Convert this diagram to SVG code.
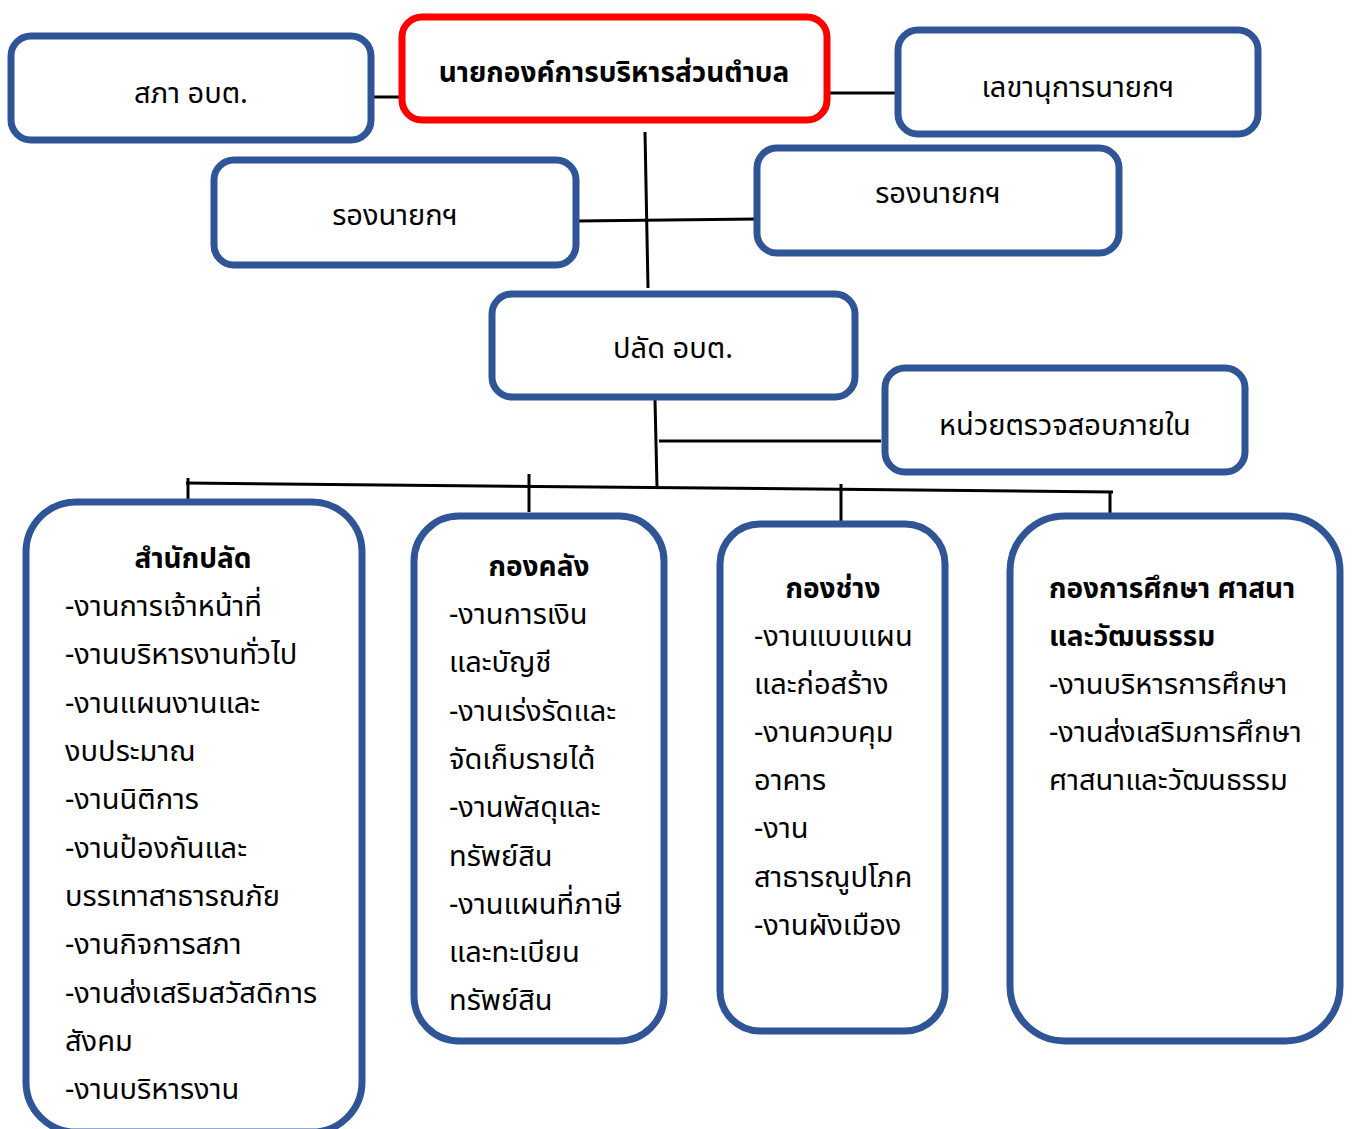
<svg xmlns="http://www.w3.org/2000/svg" width="1354" height="1129" viewBox="0 0 1354 1129">
<style>
.box{fill:#fff;stroke:#2F5597;stroke-width:7}
.red{fill:#fff;stroke:#FF0000;stroke-width:7}
.ln{stroke:#000;stroke-width:3;fill:none}
text{font-family:"Noto Sans Thai","Noto Sans","DejaVu Sans",sans-serif;font-size:29px;fill:#000}
.c{text-anchor:middle}
.b{font-weight:bold;font-size:28px}
</style>
<rect width="1354" height="1129" fill="#fff"/>
<g id="connectors">
<line class="ln" x1="372" y1="97" x2="402" y2="97"/>
<line class="ln" x1="829" y1="93" x2="898" y2="93"/>
<line class="ln" x1="645" y1="132" x2="648" y2="288"/>
<line class="ln" x1="577" y1="221" x2="757" y2="219"/>
<line class="ln" x1="655" y1="400" x2="657" y2="487"/>
<line class="ln" x1="659" y1="441" x2="881" y2="441"/>
<line class="ln" x1="186" y1="483" x2="1113" y2="492"/>
<line class="ln" x1="188" y1="478" x2="188" y2="528"/>
<line class="ln" x1="529" y1="474" x2="529" y2="512"/>
<line class="ln" x1="841" y1="484" x2="841" y2="527"/>
<line class="ln" x1="1110" y1="491" x2="1110" y2="513"/>
</g>
<g id="n-sapha"><rect class="box" x="11" y="36" width="360" height="104" rx="20"/><text class="c" x="191" y="103">สภา อบต.</text></g>
<g id="n-nayok"><rect class="red" x="402" y="17" width="425" height="103" rx="20"/><text class="c b" x="614" y="82">นายกองค์การบริหารส่วนตำบล</text></g>
<g id="n-lekha"><rect class="box" x="898" y="30" width="360" height="104" rx="20"/><text class="c" x="1078" y="97">เลขานุการนายกฯ</text></g>
<g id="n-rong1"><rect class="box" x="214" y="160" width="362" height="105" rx="20"/><text class="c" x="395" y="225">รองนายกฯ</text></g>
<g id="n-rong2"><rect class="box" x="757" y="148" width="362" height="105" rx="20"/><text class="c" x="938" y="203">รองนายกฯ</text></g>
<g id="n-palad"><rect class="box" x="492" y="294" width="363" height="103" rx="20"/><text class="c" x="673" y="358">ปลัด อบต.</text></g>
<g id="n-audit"><rect class="box" x="885" y="368" width="360" height="104" rx="20"/><text class="c" x="1065" y="435">หน่วยตรวจสอบภายใน</text></g>
<g id="n-samnak"><rect class="box" x="26" y="502" width="336" height="630" rx="50"/>
<text class="c b" x="193" y="568">สำนักปลัด</text>
<text x="65" y="616">-งานการเจ้าหน้าที่</text>
<text x="65" y="664">-งานบริหารงานทั่วไป</text>
<text x="65" y="713">-งานแผนงานและ</text>
<text x="65" y="761">งบประมาณ</text>
<text x="65" y="809">-งานนิติการ</text>
<text x="65" y="858">-งานป้องกันและ</text>
<text x="65" y="906">บรรเทาสาธารณภัย</text>
<text x="65" y="954">-งานกิจการสภา</text>
<text x="65" y="1003">-งานส่งเสริมสวัสดิการ</text>
<text x="65" y="1051">สังคม</text>
<text x="65" y="1099">-งานบริหารงาน</text>
</g>
<g id="n-klang"><rect class="box" x="414" y="516" width="250" height="525" rx="45"/>
<text class="c b" x="539" y="576">กองคลัง</text>
<text x="449" y="624">-งานการเงิน</text>
<text x="449" y="672">และบัญชี</text>
<text x="449" y="721">-งานเร่งรัดและ</text>
<text x="449" y="769">จัดเก็บรายได้</text>
<text x="449" y="817">-งานพัสดุและ</text>
<text x="449" y="866">ทรัพย์สิน</text>
<text x="449" y="914">-งานแผนที่ภาษี</text>
<text x="449" y="962">และทะเบียน</text>
<text x="449" y="1010">ทรัพย์สิน</text>
</g>
<g id="n-chang"><rect class="box" x="720" y="524" width="225" height="507" rx="40"/>
<text class="c b" x="833" y="598">กองช่าง</text>
<text x="754" y="646">-งานแบบแผน</text>
<text x="754" y="694">และก่อสร้าง</text>
<text x="754" y="742">-งานควบคุม</text>
<text x="754" y="790">อาคาร</text>
<text x="754" y="838">-งาน</text>
<text x="754" y="887">สาธารณูปโภค</text>
<text x="754" y="935">-งานผังเมือง</text>
</g>
<g id="n-suksa"><rect class="box" x="1010" y="516" width="330" height="525" rx="55"/>
<text class="b" x="1049" y="598">กองการศึกษา ศาสนา</text>
<text class="b" x="1049" y="646">และวัฒนธรรม</text>
<text x="1049" y="694">-งานบริหารการศึกษา</text>
<text x="1049" y="742">-งานส่งเสริมการศึกษา</text>
<text x="1049" y="790">ศาสนาและวัฒนธรรม</text>
</g>
</svg>
